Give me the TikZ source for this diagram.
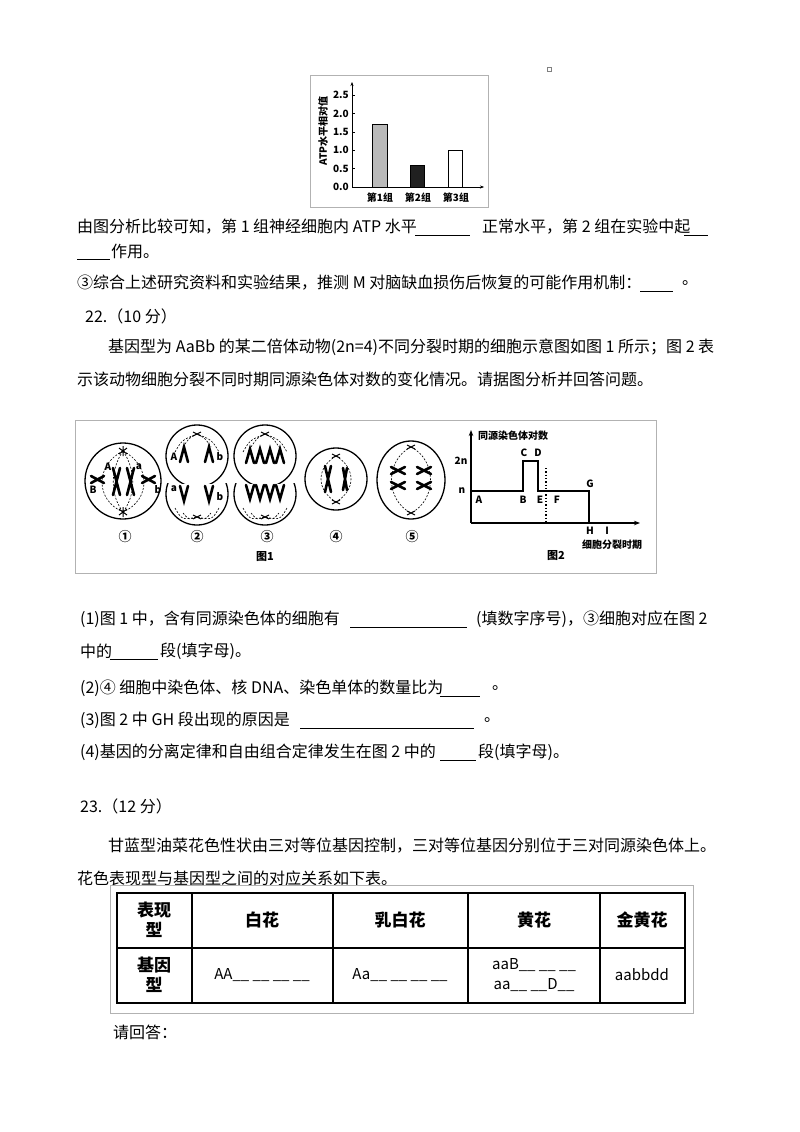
\documentclass[tikz,border=0pt]{standalone}
\usepackage{fontspec}
\setmainfont{Noto Sans CJK SC}
\usetikzlibrary{arrows.meta}
\begin{document}
\begin{tikzpicture}[x=1pt,y=-1pt,
  txt/.style={anchor=west,inner sep=0pt,font=\fontsize{16}{19}\selectfont},
  sm/.style={inner sep=0pt,font=\fontsize{10}{11}\selectfont\bfseries},
  blank/.style={line width=0.8pt},
  chrom/.style={line width=2.6pt,line cap=round},
  spin/.style={dashed,line width=0.6pt,dash pattern=on 2pt off 1.5pt},
  cell/.style={line width=1.3pt},
  bar/.style={draw,line width=0.8pt}]
\useasboundingbox (0,0) rectangle (800,1132);
% ---------- bar chart
\draw[gray!60] (310,75) rectangle (488,207);
\draw[-{Stealth[length=4pt]}] (352,187) -- (352,82);
\draw[-{Stealth[length=4pt]}] (352,187) -- (484,187);
\foreach \v/\l in {0/0.0,1/0.5,2/1.0,3/1.5,4/2.0,5/2.5}
  {\draw (352,187-18.4*\v) -- (355,187-18.4*\v);
   \node[sm,anchor=east] (yt\v) at (349,187-18.4*\v) {\l};}
\node[sm,rotate=90] (ylab) at (323,131) {ATP水平相对值};
\draw[bar,fill=gray!55] (372,187) rectangle (387,124.4);
\draw[bar,fill=gray!25!black] (410,187) rectangle (424,165);
\draw[bar,fill=white] (448,187) rectangle (462,150.2);
\node[sm] (g1) at (380,198) {第1组};
\node[sm] (g2) at (418,198) {第2组};
\node[sm] (g3) at (456,198) {第3组};
\draw[gray] (547.5,67.5) rectangle (551,71);
% ---------- text block 1
\node[txt] (t1) at (77,227) {由图分析比较可知，第 1 组神经细胞内 ATP 水平};
\draw[blank] (415,235) -- (470,235);
\node[txt] (t1b) at (482,227) {正常水平，第 2 组在实验中起};
\draw[blank] (684,235) -- (708,235);
\draw[blank] (77,259) -- (110,259);
\node[txt] (t2) at (111,251) {作用。};
\node[txt] (t3) at (77,283) {③综合上述研究资料和实验结果，推测 M 对脑缺血损伤后恢复的可能作用机制：};
\draw[blank] (640,291) -- (673,291);
\node[txt] (t3b) at (682,283) {。};
\node[txt] (q22) at (85,316) {22.（10 分）};
\node[txt] (p1) at (108,347) {基因型为 AaBb 的某二倍体动物(2n=4)不同分裂时期的细胞示意图如图 1 所示；图 2 表};
\node[txt] (p2) at (77,379) {示该动物细胞分裂不同时期同源染色体对数的变化情况。请据图分析并回答问题。};
% ---------- figure box
\draw[gray!60] (75,420) rectangle (656,573);
% cell 1
\draw[cell] (123,481) circle (38);
\draw[spin] (123,451) .. controls (95,465) and (95,500) .. (123,512);
\draw[spin] (123,451) .. controls (151,465) and (151,500) .. (123,512);
\draw[spin] (123,451) .. controls (110,470) and (110,495) .. (123,512);
\draw[spin] (123,451) .. controls (136,470) and (136,495) .. (123,512);
\draw[line width=1pt] (119,448) -- (127,454) (127,448) -- (119,454) (123,446)--(123,456);
\draw[line width=1pt] (119,509) -- (127,515) (127,509) -- (119,515) (123,507)--(123,517);
\draw[chrom] (113,468) -- (120,495) (120,468) -- (113,495);
\draw[chrom] (127,468) -- (134,495) (134,468) -- (127,495);
\draw[chrom] (91,476) -- (104,483) (91,483) -- (104,476);
\draw[chrom] (142,476) -- (155,483) (142,483) -- (155,476);
\node[sm] (c1a) at (108,467) {A};
\node[sm] (c1b) at (139,467) {a};
\node[sm] (c1c) at (93,490) {B};
\node[sm] (c1d) at (158,490) {b};
% cell 2 and 3 (dumbbell)
\foreach \cx in {197,265}{
  \begin{scope}\clip (\cx-40,415) rectangle (\cx+40,483);
    \draw[cell] (\cx,456) circle (31);\end{scope}
  \begin{scope}\clip (\cx-40,483) rectangle (\cx+40,535);
    \draw[cell] (\cx,494) circle (31);\end{scope}
  \draw[spin] (\cx-22,452) .. controls (\cx-15,440) .. (\cx,434) .. controls (\cx+15,440) .. (\cx+22,452);
  \draw[spin] (\cx-14,447) .. controls (\cx-8,438) .. (\cx,434) .. controls (\cx+8,438) .. (\cx+14,447);
  \draw[spin] (\cx-22,508) .. controls (\cx-15,520) .. (\cx,517) .. controls (\cx+15,520) .. (\cx+22,508);
  \draw[spin] (\cx-14,513) .. controls (\cx-8,520) .. (\cx,517) .. controls (\cx+8,520) .. (\cx+14,513);
  \draw[line width=1pt] (\cx-4,432) -- (\cx+4,436) (\cx+4,432) -- (\cx-4,436);
  \draw[line width=1pt] (\cx-4,515) -- (\cx+4,519) (\cx+4,515) -- (\cx-4,519);
}
\draw[chrom] (180,462) -- (184,447) -- (188,462);
\draw[chrom] (205,462) -- (209,447) -- (213,462);
\draw[chrom] (180,486) -- (184,501) -- (188,486);
\draw[chrom] (205,486) -- (209,501) -- (213,486);
\node[sm] (c2a) at (174,457) {A};
\node[sm] (c2b) at (220,457) {b};
\node[sm] (c2c) at (174,489) {a};
\node[sm] (c2d) at (220,497) {b};
\foreach \d in {-18,-8,2,12}{
  \draw[chrom] (264+\d,463) -- (268+\d,449) -- (272+\d,463);
  \draw[chrom] (264+\d,485) -- (268+\d,499) -- (272+\d,485);}
% cell 4
\draw[cell] (336,479) circle (31);
\draw[spin] (336,456) .. controls (316,468) and (316,490) .. (336,502);
\draw[spin] (336,456) .. controls (356,468) and (356,490) .. (336,502);
\draw[line width=1pt] (332,454) -- (340,458) (340,454) -- (332,458);
\draw[line width=1pt] (332,500) -- (340,504) (340,500) -- (332,504);
\draw[chrom] (325,466) -- (331,492) (331,466) -- (325,492);
\draw[chrom] (343,468) -- (347,490) (347,468) -- (343,490);
% cell 5
\draw[cell] (411,480) ellipse (34 and 39);
\draw[spin] (411,447) .. controls (385,460) and (385,500) .. (411,513);
\draw[spin] (411,447) .. controls (437,460) and (437,500) .. (411,513);
\draw[line width=1pt] (407,445) -- (415,449) (415,445) -- (407,449);
\draw[line width=1pt] (407,511) -- (415,515) (415,511) -- (407,515);
\draw[chrom] (391,467) -- (405,474) (391,474) -- (405,467);
\draw[chrom] (417,467) -- (431,474) (417,474) -- (431,467);
\draw[chrom] (391,482) -- (405,489) (391,489) -- (405,482);
\draw[chrom] (417,482) -- (431,489) (417,489) -- (431,482);
\foreach \x/\n/\s in {125/1/①,197/2/②,267/3/③,336/4/④,412/5/⑤}
  \node[inner sep=0pt,font=\fontsize{13}{13}\selectfont\bfseries] (num\n) at (\x,537) {\s};
\node[sm,font=\fontsize{11}{11}\selectfont\bfseries] (f1) at (265,557) {图1};
% fig 2
\coordinate (O) at (471,523);
\draw[line width=1.3pt,-{Stealth[length=6pt]}] (O) -- (471,430);
\draw[line width=1.3pt,-{Stealth[length=6pt]}] (O) -- (640,523);
\draw[line width=1.1pt] (471,491) -- (523,491) -- (523,461) -- (538,461) -- (538,491) -- (589,491) -- (589,523);
\draw[line width=1.3pt,dotted] (546,468) -- (546,523);
\node[sm,anchor=west] (yl) at (478,436) {同源染色体对数};
\node[sm] (l2n) at (461,461) {2n};
\node[sm] (ln) at (462,491) {n};
\node[sm] (lA) at (479,500) {A};
\node[sm] (lB) at (523,500) {B};
\node[sm] (lE) at (540,500) {E};
\node[sm] (lF) at (557,500) {F};
\node[sm] (lC) at (524,453) {C};
\node[sm] (lD) at (538,453) {D};
\node[sm] (lG) at (590,484) {G};
\node[sm] (lH) at (590,531) {H};
\node[sm] (lI) at (607,531) {I};
\node[sm] (xl) at (612,545) {细胞分裂时期};
\node[sm,font=\fontsize{11}{11}\selectfont\bfseries] (f2) at (556,556) {图2};
% ---------- questions
\node[txt] (a1) at (80,619) {(1)图 1 中，含有同源染色体的细胞有};
\draw[blank] (350,627) -- (467,627);
\node[txt] (a1b) at (476,619) {(填数字序号)，③细胞对应在图 2};
\node[txt] (a1c) at (80,651) {中的};
\draw[blank] (110,659) -- (158,659);
\node[txt] (a1d) at (160,651) {段(填字母)。};
\node[txt] (a2) at (80,688) {(2)④ 细胞中染色体、核 DNA、染色单体的数量比为};
\draw[blank] (440,696) -- (480,696);
\node[txt] (a2b) at (492,688) {。};
\node[txt] (a3) at (80,720) {(3)图 2 中 GH 段出现的原因是};
\draw[blank] (300,728) -- (474,728);
\node[txt] (a3b) at (484,720) {。};
\node[txt] (a4) at (80,752) {(4)基因的分离定律和自由组合定律发生在图 2 中的};
\draw[blank] (440,760) -- (476,760);
\node[txt] (a4b) at (478,752) {段(填字母)。};
\node[txt] (q23) at (80,806) {23.（12 分）};
\node[txt] (p3) at (108,846) {甘蓝型油菜花色性状由三对等位基因控制，三对等位基因分别位于三对同源染色体上。};
\node[txt] (p4) at (77,878) {花色表现型与基因型之间的对应关系如下表。};
% ---------- table
\draw[gray!60] (110,885) rectangle (693,1013);
\draw[line width=1.4pt] (117,893) rectangle (685,1003);
\draw[line width=1.2pt] (117,948) -- (685,948);
\foreach \x in {192,333,468,600} \draw[line width=1.2pt] (\x,893) -- (\x,1003);
\tikzset{tc/.style={inner sep=0pt,font=\fontsize{17}{20}\selectfont\bfseries,align=center}}
\node[tc] (h0) at (154,920) {表现\\型};
\node[tc] (h1) at (262,920) {白花};
\node[tc] (h2) at (400,920) {乳白花};
\node[tc] (h3) at (534,920) {黄花};
\node[tc] (h4) at (642,920) {金黄花};
\node[tc] (r0) at (154,975) {基因\\型};
\node[tc,font=\fontsize{15}{17}\selectfont] (r1) at (262,975) {AA\_\_ \_\_ \_\_ \_\_};
\node[tc,font=\fontsize{15}{17}\selectfont] (r2) at (400,975) {Aa\_\_ \_\_ \_\_ \_\_};
\node[tc,font=\fontsize{15}{20}\selectfont] (r3) at (534,975) {aaB\_\_ \_\_ \_\_\\aa\_\_ \_\_D\_\_};
\node[tc,font=\fontsize{15}{17}\selectfont] (r4) at (642,975) {aabbdd};
\node[txt] (end) at (113,1032) {请回答：};
\end{tikzpicture}
\end{document}
